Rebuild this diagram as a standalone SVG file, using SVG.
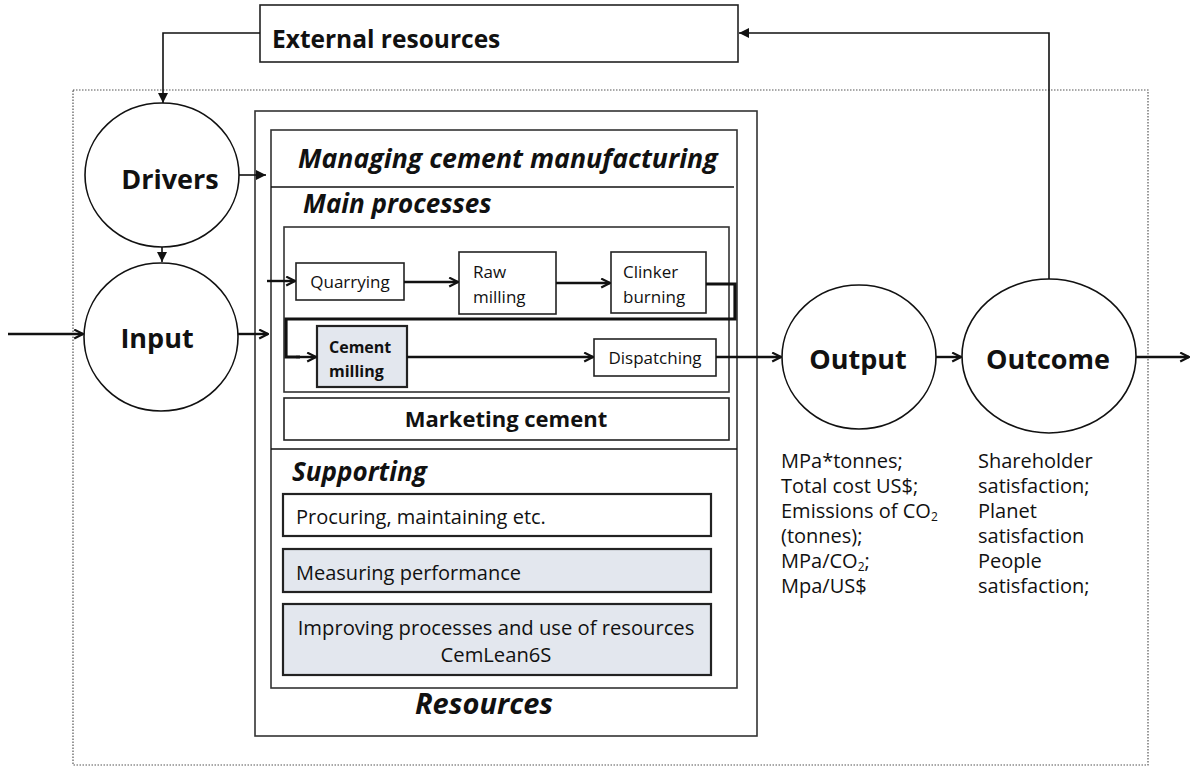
<svg xmlns="http://www.w3.org/2000/svg" width="1192" height="767" viewBox="0 0 1192 767">
  <style>
    text { font-family: "Open Sans", Lato, sans-serif; fill: #111; }
    .circle { fill: #fff; stroke: #111; stroke-width: 1.6; }
    .box { fill: #fff; stroke: #222; stroke-width: 1.6; }
    .shade { fill: #e3e7ee; stroke: #222; stroke-width: 2.2; }
    .plain { fill: #fff; stroke: #222; stroke-width: 2.2; }
    .frame { fill: none; stroke: #333; stroke-width: 1.6; }
    .big { font-weight: bold; font-size: 27px; text-anchor: middle; }
    .head { font-weight: bold; font-style: italic; }
    .small { font-size: 17px; }
    .list { font-size: 20px; }
    .sub { font-size: 12px; }
    .line { fill: none; stroke: #111; stroke-width: 1.6; }
    .flow { fill: none; stroke: #111; stroke-width: 2.4; }
    .thick { fill: none; stroke: #111; stroke-width: 3.2; }
  </style>
  <defs>
    <marker id="tri" viewBox="0 0 10 10" refX="10" refY="5" markerWidth="10" markerHeight="10" markerUnits="userSpaceOnUse" orient="auto">
      <path d="M0,0 L10,5 L0,10 z" fill="#111"/>
    </marker>
    <marker id="open" viewBox="0 0 10 10" refX="9" refY="5" markerWidth="11" markerHeight="11" markerUnits="userSpaceOnUse" orient="auto">
      <path d="M1,1 L9,5 L1,9" fill="none" stroke="#111" stroke-width="2"/>
    </marker>
  </defs>

  <!-- system boundary -->
  <rect x="73" y="90" width="1075" height="675" fill="none" stroke="#555" stroke-width="1.2" stroke-dasharray="1.5 1.5"/>

  <!-- external resources -->
  <g id="external">
    <rect class="box" x="260" y="5" width="478" height="57"/>
    <text x="272" y="48" font-weight="bold" font-size="24.5">External resources</text>
  </g>

  <!-- resources block -->
  <g id="resources">
    <rect class="frame" x="255" y="111" width="502" height="625"/>
    <rect class="frame" x="271" y="130" width="466" height="558"/>
    <line class="line" x1="271" y1="187" x2="734" y2="187"/>
    <text class="head" x="298" y="168" font-size="26.7">Managing cement manufacturing</text>
    <text class="head" x="303" y="213" font-size="26">Main processes</text>
    <rect class="frame" x="284" y="227" width="445" height="165"/>
    <line class="line" x1="271" y1="449" x2="737" y2="449"/>
    <text class="head" x="292" y="481" font-size="26">Supporting</text>
    <text class="head" x="484" y="714" font-size="29" text-anchor="middle">Resources</text>
  </g>

  <g id="quarrying">
    <rect class="box" x="296" y="263" width="108" height="37"/>
    <text class="small" x="350" y="288" text-anchor="middle">Quarrying</text>
  </g>
  <g id="raw-milling">
    <rect class="box" x="459" y="252" width="97" height="62"/>
    <text class="small" x="473" y="278">Raw</text>
    <text class="small" x="473" y="303">milling</text>
  </g>
  <g id="clinker-burning">
    <rect class="box" x="611" y="252" width="95" height="61"/>
    <text class="small" x="623" y="278">Clinker</text>
    <text class="small" x="623" y="303">burning</text>
  </g>
  <g id="cement-milling">
    <rect class="shade" x="317" y="326" width="90" height="61"/>
    <text x="329" y="353" font-size="16" font-weight="bold">Cement</text>
    <text x="329" y="377" font-size="16" font-weight="bold">milling</text>
  </g>
  <g id="dispatching">
    <rect class="box" x="594" y="339" width="122" height="37"/>
    <text class="small" x="655" y="364" text-anchor="middle">Dispatching</text>
  </g>
  <g id="marketing">
    <rect class="box" x="284" y="398" width="445" height="42"/>
    <text x="506" y="427" font-weight="bold" font-size="22" text-anchor="middle">Marketing cement</text>
  </g>
  <g id="procuring">
    <rect class="plain" x="283" y="494" width="428" height="42"/>
    <text x="296" y="524" font-size="20">Procuring, maintaining etc.</text>
  </g>
  <g id="measuring">
    <rect class="shade" x="283" y="549" width="428" height="43"/>
    <text x="296" y="580" font-size="20">Measuring performance</text>
  </g>
  <g id="improving">
    <rect class="shade" x="283" y="604" width="428" height="71"/>
    <text x="496" y="635" font-size="20.2" text-anchor="middle">Improving processes and use of resources</text>
    <text x="496" y="662" font-size="20.2" text-anchor="middle">CemLean6S</text>
  </g>

  <!-- circles -->
  <g id="drivers">
    <ellipse class="circle" cx="162" cy="175" rx="77" ry="72"/>
    <text class="big" x="170" y="189">Drivers</text>
  </g>
  <g id="input">
    <ellipse class="circle" cx="161" cy="337" rx="77" ry="74"/>
    <text class="big" x="157" y="348">Input</text>
  </g>
  <g id="output">
    <ellipse class="circle" cx="859" cy="357" rx="77" ry="72"/>
    <text class="big" x="858" y="369">Output</text>
  </g>
  <g id="outcome">
    <ellipse class="circle" cx="1049" cy="356" rx="87" ry="77"/>
    <text class="big" x="1048" y="369">Outcome</text>
  </g>

  <!-- measures -->
  <g id="output-measures" class="list">
    <text x="781" y="468">MPa*tonnes;</text>
    <text x="781" y="493">Total cost US$;</text>
    <text x="781" y="518">Emissions of CO<tspan class="sub" dy="3">2</tspan></text>
    <text x="781" y="543">(tonnes);</text>
    <text x="781" y="568">MPa/CO<tspan class="sub" dy="3">2</tspan><tspan dy="-3">;</tspan></text>
    <text x="781" y="593">Mpa/US$</text>
  </g>
  <g id="outcome-measures" class="list">
    <text x="978" y="468">Shareholder</text>
    <text x="978" y="493">satisfaction;</text>
    <text x="978" y="518">Planet</text>
    <text x="978" y="543">satisfaction</text>
    <text x="978" y="568">People</text>
    <text x="978" y="593">satisfaction;</text>
  </g>

  <!-- connectors -->
  <g id="connectors">
    <polyline class="line" points="260,33 163,33 163,103" marker-end="url(#tri)"/>
    <polyline class="line" points="1049,279 1049,33 739,33" marker-end="url(#tri)"/>
    <line class="line" x1="162" y1="247" x2="162" y2="262" marker-end="url(#tri)"/>
    <line class="line" x1="239" y1="175" x2="266" y2="175" marker-end="url(#tri)"/>
    <line class="flow" x1="8" y1="334" x2="83" y2="334" marker-end="url(#open)"/>
    <line class="flow" x1="238" y1="334" x2="268" y2="334" marker-end="url(#open)"/>
    <line class="flow" x1="267" y1="281" x2="295" y2="281" marker-end="url(#open)"/>
    <line class="flow" x1="404" y1="282" x2="458" y2="282" marker-end="url(#open)"/>
    <line class="flow" x1="556" y1="283" x2="610" y2="283" marker-end="url(#open)"/>
    <polyline class="thick" points="706,284 735,284 735,319 286,319 286,357 300,357"/>
    <line class="flow" x1="296" y1="357" x2="316" y2="357" marker-end="url(#open)"/>
    <line class="flow" x1="407" y1="357" x2="593" y2="357" marker-end="url(#open)"/>
    <line class="flow" x1="716" y1="357" x2="781" y2="357" marker-end="url(#open)"/>
    <line class="flow" x1="936" y1="357" x2="961" y2="357" marker-end="url(#open)"/>
    <line class="flow" x1="1136" y1="357" x2="1189" y2="357" marker-end="url(#open)"/>
  </g>
</svg>
